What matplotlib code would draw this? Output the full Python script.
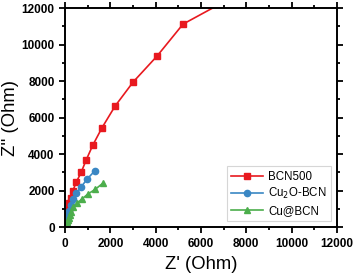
import matplotlib
matplotlib.use("Agg")
import matplotlib.pyplot as plt
from matplotlib.ticker import MultipleLocator

plt.rcParams['font.family'] = ['Liberation Sans', 'DejaVu Sans']

# Nyquist data (Z' , Z'')
bcn_x = [30, 60, 100, 150, 190, 265, 340, 485, 706, 926, 1222, 1630, 2205, 3000, 4058, 5205, 7400]
bcn_y = [150, 400, 700, 1000, 1332, 1605, 1989, 2449, 2997, 3671, 4493, 5450, 6630, 7945, 9370, 11120, 12600]

cu2o_x = [20, 50, 100, 150, 251, 353, 485, 692, 957, 1310]
cu2o_y = [100, 300, 600, 900, 1205, 1518, 1845, 2175, 2614, 3085]

cu_x = [15, 30, 50, 80, 110, 150, 200, 265, 368, 515, 736, 1000, 1323, 1690]
cu_y = [40, 90, 170, 270, 380, 500, 650, 838, 1080, 1299, 1534, 1808, 2066, 2430]

labels = ['BCN500', 'Cu$_2$O-BCN', 'Cu@BCN']
colors = ['#e8191f', '#3a87c4', '#4cae4c']

fig = plt.figure(figsize=(3.58, 2.78), dpi=100)
ax = fig.add_axes([0.182, 0.183, 0.759, 0.788])

ax.plot(bcn_x, bcn_y, '-s', color=colors[0], ms=4.2, lw=1.2, label=labels[0])
ax.plot(cu2o_x, cu2o_y, '-o', color=colors[1], ms=4.5, lw=1.2, label=labels[1])
ax.plot(cu_x, cu_y, '-^', color=colors[2], ms=4.5, lw=1.2, label=labels[2])

ax.set_xlim(0, 12000)
ax.set_ylim(0, 12000)
for a in (ax.xaxis, ax.yaxis):
    a.set_major_locator(MultipleLocator(2000))
    a.set_minor_locator(MultipleLocator(1000))

ax.tick_params(which='both', direction='out', top=True, right=True, width=1.3)
ax.tick_params(which='major', length=4)
ax.tick_params(which='minor', length=2.5)
ax.tick_params(labelsize=8.5)
for lab in ax.get_xticklabels() + ax.get_yticklabels():
    lab.set_fontweight('bold')
for s in ax.spines.values():
    s.set_linewidth(1.4)

ax.set_xlabel("Z' (Ohm)", fontsize=13.3, labelpad=5)
ax.set_ylabel("Z'' (Ohm)", fontsize=13.3, labelpad=2)

leg = ax.legend(loc='lower right', fontsize=8.3, frameon=True, fancybox=False,
                edgecolor='#cccccc', handlelength=2.8, borderaxespad=0.5,
                labelspacing=0.3, handletextpad=0.4)
leg.get_frame().set_linewidth(0.8)

fig.savefig('out.png', dpi=100)
